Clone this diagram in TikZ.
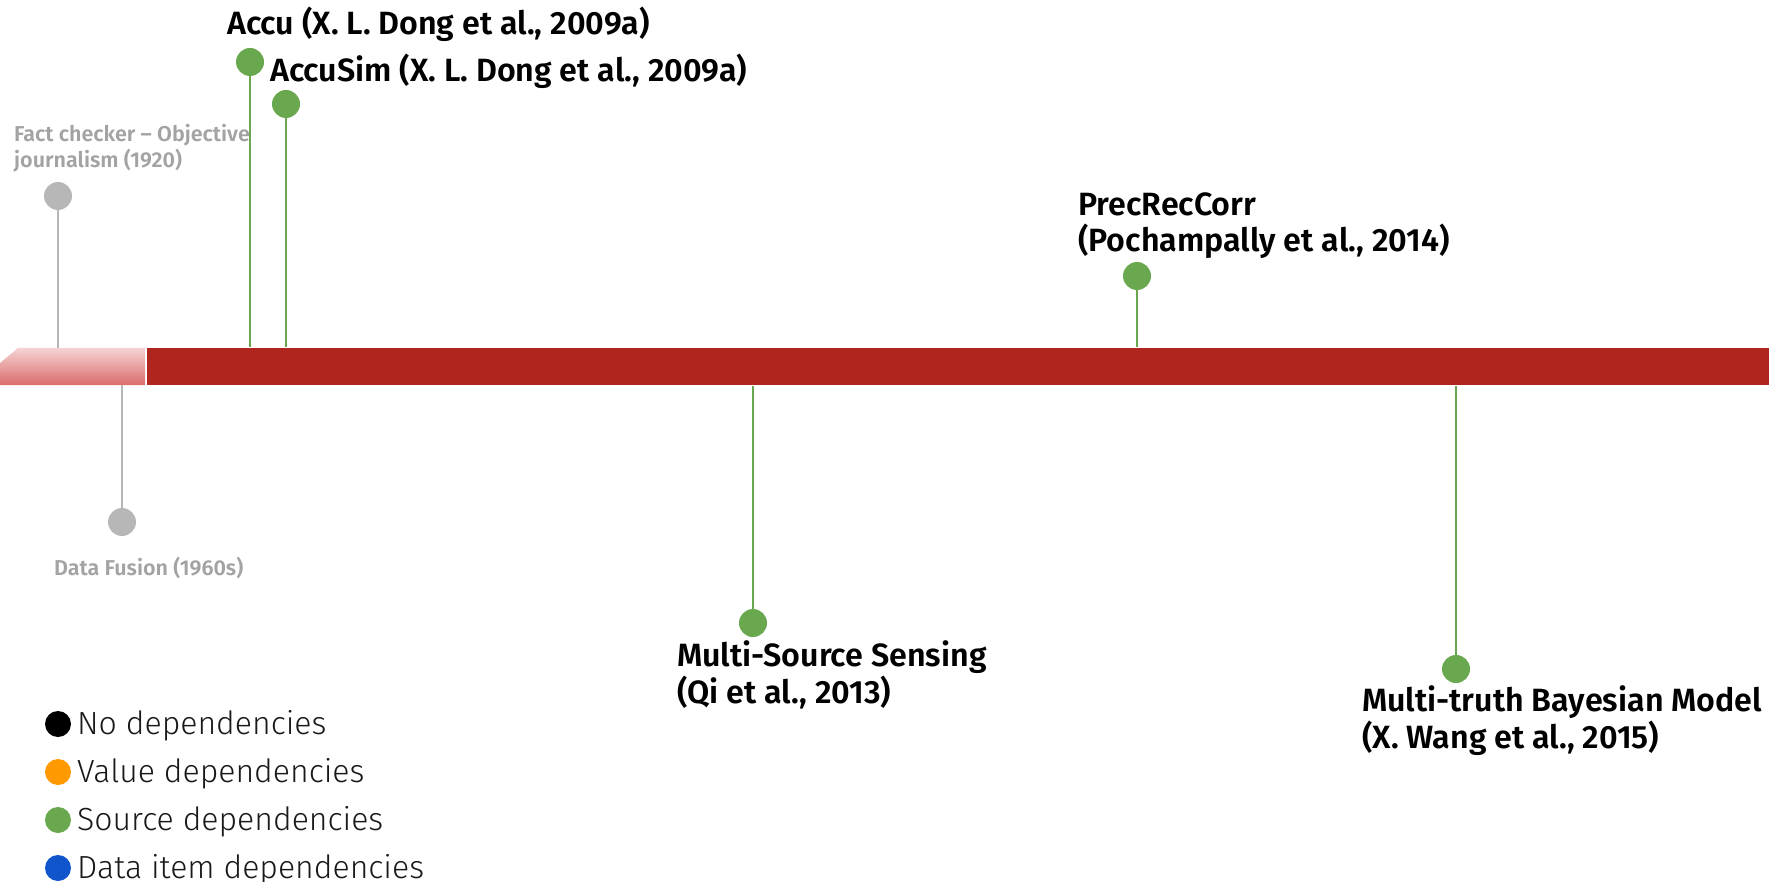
\documentclass[tikz,border=0pt]{standalone}
\usepackage{fontspec}
\setmainfont{Fira Sans}
\newfontfamily\firasemi{Fira Sans SemiBold}
\newfontfamily\firalight{Fira Sans Light}
\definecolor{barred}{HTML}{B0261F}
\definecolor{pinktop}{HTML}{F5D3D3}
\definecolor{pinkbot}{HTML}{DC6C6C}
\definecolor{srcgreen}{HTML}{6AA84F}
\definecolor{oldgrey}{HTML}{B7B7B7}
\definecolor{oldtext}{HTML}{A3A3A3}
\definecolor{valorange}{HTML}{FF9900}
\definecolor{itemblue}{HTML}{1155CC}
\begin{document}
\begin{tikzpicture}[x=1pt,y=-1pt,
  event/.style={circle,fill=#1,minimum size=28pt,inner sep=0pt},
  stem/.style={draw=#1,line width=1.6pt},
  work/.style={font=\firasemi\fontsize{32.2}{36.5}\selectfont,anchor=base west,inner sep=0pt,align=left},
  history/.style={font=\firasemi\fontsize{21.5}{26}\selectfont,text=oldtext,anchor=base west,inner sep=0pt,align=left},
  keydot/.style={circle,fill=#1,minimum size=26pt,inner sep=0pt},
  keytext/.style={font=\firalight\fontsize{32}{32}\selectfont,text=black!90,anchor=base west,inner sep=0pt}]
\useasboundingbox (0,0) rectangle (1769,882);

% timeline bar: faded early segment and the main period
\shade[top color=pinktop,bottom color=pinkbot]
  (0,363) -- (18,348) -- (145,348) -- (145,385) -- (0,385) -- cycle;
\fill[barred] (147,348) rectangle (1769,385);

% anchor points on the bar edges
\coordinate (fcbar) at (58,348);
\coordinate (dfbar) at (122,385);
\coordinate (accubar) at (250,347);
\coordinate (simbar) at (286,347);
\coordinate (prcbar) at (1137,347);
\coordinate (msbar) at (753,386);
\coordinate (mtbar) at (1456,386);

% early history (grey)
\draw[stem=oldgrey] (58,196) -- (fcbar);
\node[event=oldgrey] (fc) at (58,196) {};
\node[history] (fctext) at (14,168) {Fact checker – Objective\\journalism (1920)};

\draw[stem=oldgrey] (122,522) -- (dfbar);
\node[event=oldgrey] (df) at (122,522) {};
\node[history] (dftext) at (54,575) {Data Fusion (1960s)};

% source-dependency methods (green)
\draw[stem=srcgreen] (250,62) -- (accubar);
\node[event=srcgreen] (accu) at (250,62) {};
\node[work] (accutext) at (227,35) {Accu (X. L. Dong et al., 2009a)};

\draw[stem=srcgreen] (286,104) -- (simbar);
\node[event=srcgreen] (sim) at (286,104) {};
\node[work] (simtext) at (270,82) {AccuSim (X. L. Dong et al., 2009a)};

\draw[stem=srcgreen] (1137,276) -- (prcbar);
\node[event=srcgreen] (prc) at (1137,276) {};
\node[work] (prctext) at (1078,252) {PrecRecCorr\\(Pochampally et al., 2014)};

\draw[stem=srcgreen] (753,623) -- (msbar);
\node[event=srcgreen] (ms) at (753,623) {};
\node[work] (mstext) at (677,703) {Multi-Source Sensing\\(Qi et al., 2013)};

\draw[stem=srcgreen] (1456,669) -- (mtbar);
\node[event=srcgreen] (mt) at (1456,669) {};
\node[work] (mttext) at (1362,748) {Multi-truth Bayesian Model\\(X. Wang et al., 2015)};

% legend
\node[keydot=black] (k1) at (58,724) {};
\node[keytext] (k1t) at (77,734) {No dependencies};
\node[keydot=valorange] (k2) at (58,772) {};
\node[keytext] (k2t) at (77,782) {Value dependencies};
\node[keydot=srcgreen] (k3) at (58,820) {};
\node[keytext] (k3t) at (77,830) {Source dependencies};
\node[keydot=itemblue] (k4) at (58,868) {};
\node[keytext] (k4t) at (77,878) {Data item dependencies};
\end{tikzpicture}
\end{document}
